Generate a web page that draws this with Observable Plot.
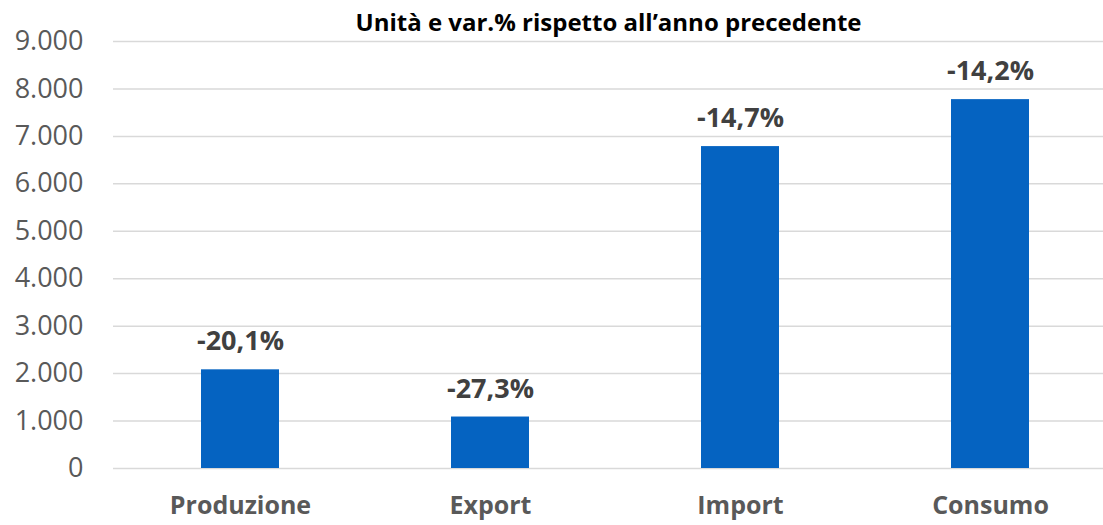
<!DOCTYPE html>
<html>
<head>
<meta charset="utf-8">
<script src="https://cdn.jsdelivr.net/npm/d3@7"></script>
<script src="https://cdn.jsdelivr.net/npm/@observablehq/plot@0.6"></script>
<style>
  html, body { margin: 0; padding: 0; background: #fff; }
  #chart svg { display: block; }
</style>
</head>
<body>
<div id="chart"></div>
<script>
const categories = ["Produzione", "Export", "Import", "Consumo"];
const values = [2080, 1085, 6785, 7775];
const changes = ["-20,1%", "-27,3%", "-14,7%", "-14,2%"];
const yTicks = [0, 1000, 2000, 3000, 4000, 5000, 6000, 7000, 8000, 9000];
const title = "Unità e var.% rispetto all’anno precedente";

const data = categories.map((c, i) => ({cat: c, value: values[i], change: changes[i]}));
const it = d3.formatLocale({decimal: ",", thousands: ".", grouping: [3], currency: ["", "€"]});
const fmt = it.format(",");

const chart = Plot.plot({
  width: 1103,
  height: 525,
  marginLeft: 113,
  marginRight: 0,
  marginTop: 41,
  marginBottom: 57,
  style: {fontFamily: "'Open Sans', sans-serif", background: "#fff"},
  x: {domain: categories, range: [113, 1116], paddingInner: 0.69, paddingOuter: 0.345, label: null},
  y: {domain: [0, 9000], label: null},
  marks: [
    Plot.ruleY(yTicks, {stroke: "#d9d9d9", strokeWidth: 1.5}),
    Plot.barY(data, {x: "cat", y: "value", fill: "#0563C1"}),
    Plot.text(data, {x: "cat", y: "value", text: "change", dy: -28, lineAnchor: "middle",
      fontSize: 27, fontWeight: "bold", fill: "#404040"}),
    Plot.axisY(yTicks, {tickFormat: fmt, tickSize: 0, tickPadding: 30, fontSize: 27, fill: "#595959", label: null}),
    Plot.axisX({tickSize: 0, tickPadding: 28, fontSize: 25, fontWeight: "bold", fill: "#595959", label: null}),
    Plot.text([title], {frameAnchor: "top", dy: -18, lineAnchor: "middle", fontSize: 24,
      fontWeight: "bold", fill: "#000"})
  ]
});
document.getElementById("chart").appendChild(chart);
</script>
</body>
</html>
